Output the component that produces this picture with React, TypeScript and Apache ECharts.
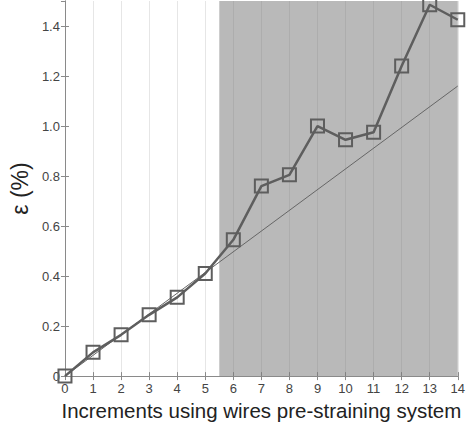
import React, { useEffect, useRef } from "react";
import * as echarts from "echarts";

const increments = [0, 1, 2, 3, 4, 5, 6, 7, 8, 9, 10, 11, 12, 13, 14];
const strainValues = [0, 0.095, 0.165, 0.245, 0.315, 0.41, 0.545, 0.76, 0.805, 1.0, 0.945, 0.975, 1.24, 1.485, 1.425];
const trendStart = [0, 0];
const trendEnd = [14, 1.16];
const shadedFrom = 5.5;
const shadedTo = 14;
const xTitle = "Increments using wires pre-straining system";
const yTitle = "ε (%)";

const FONT = "'Liberation Sans', Arial, sans-serif";

export default function App() {
  const ref = useRef<HTMLDivElement>(null);
  useEffect(() => {
    if (!ref.current) return;
    const chart = echarts.init(ref.current, undefined, { renderer: "svg" });
    const axisLineStyle = { color: "#8a8a8a", width: 1 };
    chart.setOption({
      animation: false,
      backgroundColor: "#ffffff",
      grid: { left: 60, right: 6, top: 1, bottom: 46, containLabel: false },
      xAxis: [
        {
          type: "value",
          min: 0,
          max: 14,
          interval: 1,
          position: "bottom",
          name: xTitle,
          nameLocation: "middle",
          nameGap: 21,
          nameTextStyle: { fontSize: 20.5, color: "#222", fontFamily: FONT },
          axisLine: { show: true, lineStyle: axisLineStyle },
          axisTick: { show: true, inside: true, length: 4, lineStyle: axisLineStyle },
          axisLabel: { fontSize: 13, color: "#444", margin: 6, fontFamily: FONT },
          splitLine: { show: true, lineStyle: { color: "#e6e6e6", width: 1 } },
        },
        {
          type: "value",
          min: 0,
          max: 14,
          interval: 1,
          position: "top",
          axisLine: { show: true, lineStyle: axisLineStyle },
          axisTick: { show: true, inside: true, length: 4, lineStyle: axisLineStyle },
          axisLabel: { show: false },
          splitLine: { show: false },
        },
      ],
      yAxis: [
        {
          type: "value",
          min: 0,
          max: 1.5,
          interval: 0.2,
          position: "left",
          name: yTitle,
          nameLocation: "middle",
          nameGap: 30,
          nameRotate: 90,
          nameTextStyle: { fontSize: 23, color: "#222", fontFamily: FONT },
          axisLine: { show: true, lineStyle: axisLineStyle },
          axisTick: { show: true, inside: true, length: 4, lineStyle: axisLineStyle },
          axisLabel: {
            fontSize: 13,
            color: "#444",
            margin: 5,
            fontFamily: FONT,
            showMaxLabel: false,
            formatter: (v: number) => (v === 0 ? "0" : v.toFixed(1)),
          },
          splitLine: { show: false },
        },
        {
          type: "value",
          min: 0,
          max: 1.5,
          interval: 0.2,
          position: "right",
          axisLine: { show: true, lineStyle: axisLineStyle },
          axisTick: { show: true, inside: true, length: 4, lineStyle: axisLineStyle },
          axisLabel: { show: false },
          splitLine: { show: false },
        },
      ],
      series: [
        {
          type: "line",
          data: [],
          silent: true,
          markArea: {
            silent: true,
            itemStyle: { color: "rgba(120,120,120,0.52)" },
            data: [[{ xAxis: shadedFrom }, { xAxis: shadedTo }]],
          },
        },
        {
          type: "line",
          data: [trendStart, trendEnd],
          symbol: "none",
          lineStyle: { color: "#666", width: 1 },
          z: 3,
        },
        {
          type: "line",
          data: increments.map((x, i) => [x, strainValues[i]]),
          symbol: "rect",
          symbolSize: 13,
          showAllSymbol: true,
          lineStyle: { color: "#5e5e5e", width: 2.5 },
          itemStyle: { color: "rgba(0,0,0,0)", borderColor: "#5e5e5e", borderWidth: 2 },
          z: 4,
        },
      ],
    });
    return () => chart.dispose();
  }, []);
  return <div ref={ref} style={{ width: 468, height: 426, position: "absolute", left: 0, top: 0 }} />;
}
